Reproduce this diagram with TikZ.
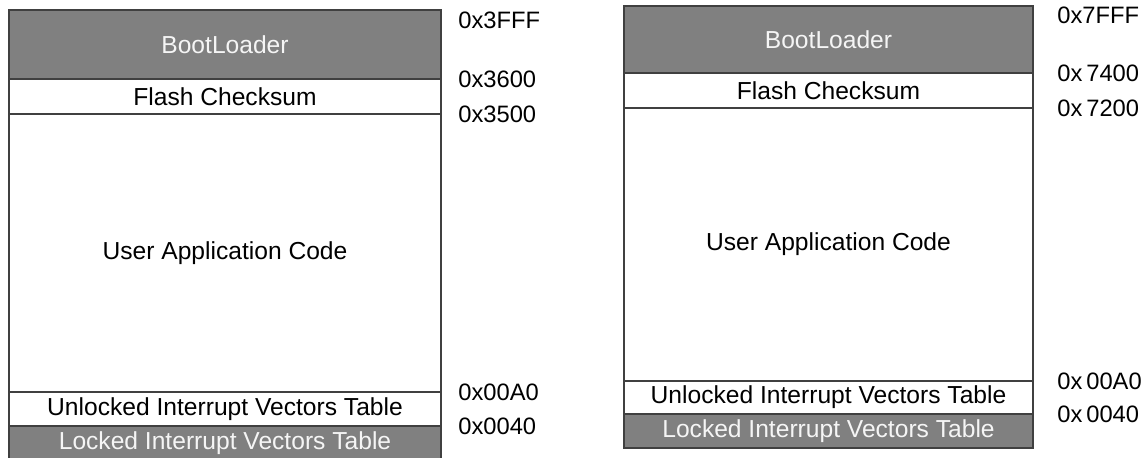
\documentclass[tikz,border=0pt]{standalone}
\usepackage{fontspec}
\setmainfont{Liberation Sans}
\usetikzlibrary{positioning}

\begin{document}
\begin{tikzpicture}[region/.style={rectangle,draw=black!75,line width=0.7pt,inner sep=0pt,outer sep=0pt,font=\fontsize{14}{16}\selectfont},
  locked/.style={region,fill=black!50,text=black!4},
  addr/.style={anchor=west,inner sep=0pt,font=\fontsize{13.5}{16}\selectfont}]
\useasboundingbox (0,0) rectangle (22.86,9.14);
\coordinate (lx) at (9.16,0);
\coordinate (rx) at (21.14,0);
\node [locked,anchor=north west,minimum width=8.64cm,minimum height=1.38cm] (boota) at (0.18,8.94) {BootLoader};
\node [region,below=0pt of boota,minimum width=8.64cm,minimum height=0.7cm] (checka) {Flash Checksum};
\node [region,below=0pt of checka,minimum width=8.64cm,minimum height=5.56cm] (usera) {User Application Code};
\node [region,below=0pt of usera,minimum width=8.64cm,minimum height=0.68cm] (unlocka) {Unlocked Interrupt Vectors Table};
\node [locked,below=0pt of unlocka,minimum width=8.64cm,minimum height=0.68cm] (locka) {Locked Interrupt Vectors Table};
\node [addr] (topa) at (9.16,8.74) {0x3FFF};
\node [addr] (csa) at (checka.north -| lx) {0x3600};
\node [addr] (uaa) at (usera.north -| lx) {0x3500};
\node [addr] (uva) at (unlocka.north -| lx) {0x00A0};
\node [addr] (lva) at (locka.north -| lx) {0x0040};
\node [locked,anchor=north west,minimum width=8.18cm,minimum height=1.34cm] (bootb) at (12.48,9.02) {BootLoader};
\node [region,below=0pt of bootb,minimum width=8.18cm,minimum height=0.7cm] (checkb) {Flash Checksum};
\node [region,below=0pt of checkb,minimum width=8.18cm,minimum height=5.46cm] (userb) {User Application Code};
\node [region,below=0pt of userb,minimum width=8.18cm,minimum height=0.66cm] (unlockb) {Unlocked Interrupt Vectors Table};
\node [locked,below=0pt of unlockb,minimum width=8.18cm,minimum height=0.68cm] (lockb) {Locked Interrupt Vectors Table};
\node [addr] (topb) at (21.14,8.84) {0x7FFF};
\node [addr] (csb) at (checkb.north -| rx) {0x\,7400};
\node [addr] (uab) at (userb.north -| rx) {0x\,7200};
\node [addr] (uvb) at (unlockb.north -| rx) {0x\,00A0};
\node [addr] (lvb) at (lockb.north -| rx) {0x\,0040};
\end{tikzpicture}
\end{document}
